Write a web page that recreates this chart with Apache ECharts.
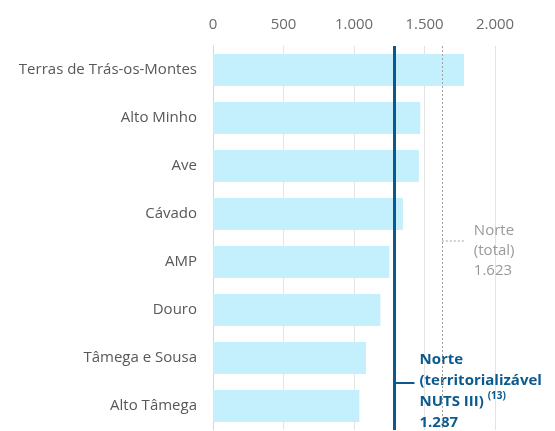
<!DOCTYPE html>
<html>
<head>
<meta charset="utf-8">
<script src="https://cdn.jsdelivr.net/npm/echarts@6/dist/echarts.min.js"></script>
<style>
    html, body { margin: 0; padding: 0; background: #fff; }
    #chart { width: 555px; height: 431px; }
</style>
</head>
<body>
<div id="chart"></div>
<script>
// regiões NUTS III do Norte
const categories = ['Terras de Trás-os-Montes', 'Alto Minho', 'Ave', 'Cávado', 'AMP', 'Douro', 'Tâmega e Sousa', 'Alto Tâmega']
const values = [1780, 1470, 1460, 1347, 1250, 1187, 1085, 1038]
const xTicks = [0, 500, 1000, 1500, 2000]
const norteTotal = 1623
const norteTerritorial = 1287

const fontFamily = '"Open Sans", "Noto Sans", sans-serif'
const blue = '#0b5a8e'

const fmt = (v) => String(v).replace(/\B(?=(\d{3})+(?!\d))/g, '.')

const chart = echarts.init(document.getElementById('chart'))

chart.setOption({
    animation: false,
    grid: {
        left: 213,
        right: 60,
        top: 46,
        bottom: 1,
    },
    xAxis: {
        type: 'value',
        position: 'top',
        min: xTicks[0],
        max: xTicks[xTicks.length - 1],
        interval: 500,
        axisLine: { show: false },
        axisTick: { show: false },
        axisLabel: {
            color: '#6b6b6b',
            fontSize: 15,
            fontFamily,
            margin: 14,
            formatter: (v) => fmt(v),
        },
        splitLine: {
            lineStyle: { color: '#e3e3e3', width: 1 },
        },
    },
    yAxis: {
        type: 'category',
        inverse: true,
        data: categories,
        axisLine: { lineStyle: { color: '#d6d6d6' } },
        axisTick: { length: 4, lineStyle: { color: '#d6d6d6' } },
        axisLabel: {
            color: '#585858',
            fontSize: 15,
            fontFamily,
            margin: 16,
        },
    },
    series: [
        {
            type: 'bar',
            data: values,
            barWidth: 32,
            itemStyle: { color: '#c4effd' },
            markLine: {
                symbol: 'none',
                silent: true,
                label: { show: false },
                data: [
                    {
                        xAxis: norteTotal,
                        lineStyle: { color: '#a0a0a0', type: [2, 2], width: 1 },
                    },
                    {
                        xAxis: norteTerritorial,
                        lineStyle: { color: blue, type: 'solid', width: 3 },
                    },
                ],
            },
        },
    ],
})

// anotações ligadas às linhas de referência
const xTotal = chart.convertToPixel({ xAxisIndex: 0 }, norteTotal)
const xTerr = chart.convertToPixel({ xAxisIndex: 0 }, norteTerritorial)
const yc = (i) => chart.convertToPixel({ yAxisIndex: 0 }, i)
const yTotal = (yc(3) + yc(4)) / 2 + 3
const yTerr = (yc(6) + yc(7)) / 2 + 1

chart.setOption({
    graphic: [
        {
            type: 'line',
            silent: true,
            shape: { x1: xTotal, y1: yTotal, x2: xTotal + 22, y2: yTotal },
            style: { stroke: '#a0a0a0', lineWidth: 1, lineDash: [2, 2] },
        },
        {
            type: 'text',
            silent: true,
            left: xTotal + 32,
            top: yTotal - 20,
            style: {
                text: 'Norte\n(total)\n' + fmt(norteTotal),
                fill: '#9a9a9a',
                font: '15px ' + fontFamily,
                lineHeight: 20,
            },
        },
        {
            type: 'line',
            silent: true,
            shape: { x1: xTerr + 1, y1: yTerr, x2: xTerr + 20, y2: yTerr },
            style: { stroke: blue, lineWidth: 2 },
        },
        {
            type: 'text',
            silent: true,
            left: xTerr + 25,
            top: yTerr - 31,
            style: {
                text: '{b|Norte}\n{b|(territorializável}\n{b|NUTS III) }{s|(13)}\n{b|' + fmt(norteTerritorial) + '}',
                rich: {
                    b: {
                        fill: blue,
                        fontSize: 15,
                        fontWeight: 'bold',
                        fontFamily,
                        lineHeight: 21,
                    },
                    s: {
                        fill: blue,
                        fontSize: 10,
                        fontWeight: 'bold',
                        fontFamily,
                        lineHeight: 21,
                        verticalAlign: 'top',
                        padding: [0, 0, 8, 0],
                    },
                },
            },
        },
    ],
})

window.addEventListener('resize', () => chart.resize())
</script>
</body>
</html>
